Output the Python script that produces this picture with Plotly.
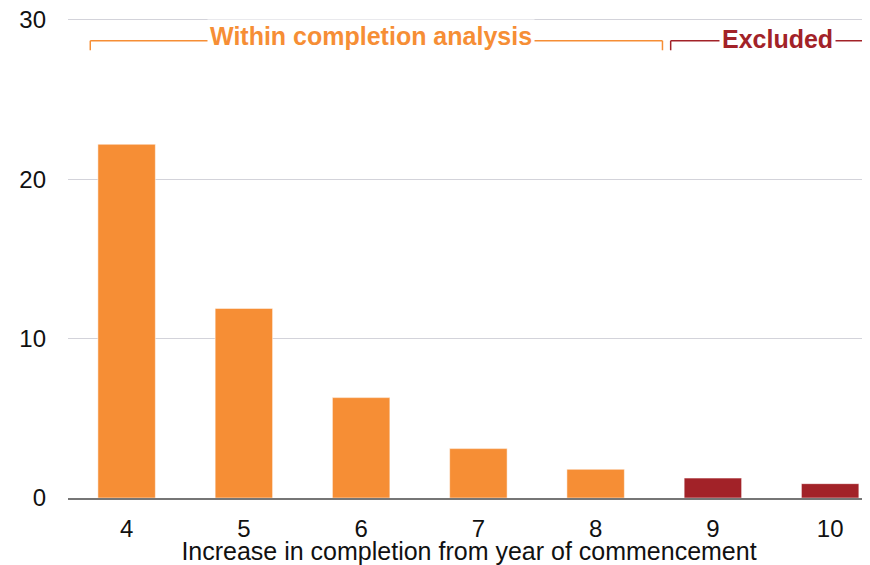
import plotly.graph_objects as go

categories = ["4", "5", "6", "7", "8", "9", "10"]
values = [22.2, 11.9, 6.3, 3.1, 1.8, 1.25, 0.9]
groups = ["within", "within", "within", "within", "within", "excluded", "excluded"]
y_ticks = [0, 10, 20, 30]

ORANGE = "#F68E35"
DARKRED = "#A22228"
colors = [ORANGE if g == "within" else DARKRED for g in groups]

# bracket spans (category-index coordinates) and labels
within_span = [-0.31, 4.57]
excluded_span = [4.64, 6.6]
bracket_y = [28.7, 28.1]
within_label = "Within completion analysis"
excluded_label = "Excluded"

FONT = "Liberation Sans, Arial, sans-serif"

fig = go.Figure()
fig.add_trace(go.Bar(
    x=list(range(len(categories))), y=values,
    marker=dict(color=colors, line=dict(color="rgba(255,255,255,0.5)", width=1)),
    width=0.49, showlegend=False, hoverinfo="skip",
))

def bracket(span, color, right_tick=True):
    x0, x1 = span
    ytop, ybot = bracket_y
    fig.add_shape(type="line", xref="x", yref="y", x0=x0, x1=x1, y0=ytop, y1=ytop,
                  line=dict(color=color, width=1.5))
    fig.add_shape(type="line", xref="x", yref="y", x0=x0, x1=x0, y0=ytop, y1=ybot,
                  line=dict(color=color, width=1.5))
    if right_tick:
        fig.add_shape(type="line", xref="x", yref="y", x0=x1, x1=x1, y0=ytop, y1=ybot,
                      line=dict(color=color, width=1.5))

bracket(within_span, ORANGE)
bracket(excluded_span, DARKRED, right_tick=False)

fig.add_annotation(x=2.08, y=bracket_y[0], xref="x", yref="y", text="<b>" + within_label + "</b>",
                   showarrow=False, font=dict(color=ORANGE, size=25, family=FONT),
                   bgcolor="white", borderpad=2, yshift=5)
fig.add_annotation(x=5.55, y=bracket_y[0], xref="x", yref="y", text="<b>" + excluded_label + "</b>",
                   showarrow=False, font=dict(color=DARKRED, size=25, family=FONT),
                   bgcolor="white", borderpad=2, yshift=2)

fig.update_layout(
    width=862, height=557,
    margin=dict(l=60, r=0, t=10, b=67),
    plot_bgcolor="white", paper_bgcolor="white",
    font=dict(family=FONT, size=24, color="#111111"),
)
fig.update_xaxes(
    range=[-0.5, 6.34], tickmode="array", tickvals=list(range(len(categories))), ticktext=categories,
    showgrid=False, zeroline=False, showline=True, linecolor="#767676", linewidth=2,
    ticks="", ticklabelstandoff=8, automargin=False,
    title=dict(text="Increase in completion from year of commencement", standoff=6,
               font=dict(size=25)),
)
fig.update_yaxes(
    range=[0, 30.125], tickvals=y_ticks, showgrid=True, gridcolor="#D3D3DA", gridwidth=1,
    zeroline=False, showline=False, ticks="", ticklabelstandoff=21,
    ticklabeloverflow="allow", automargin=False,
)

fig.write_html("out.html")
